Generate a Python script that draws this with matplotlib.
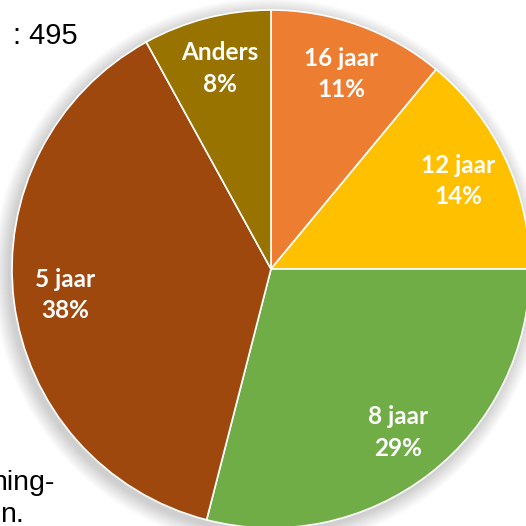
import matplotlib
matplotlib.use("Agg")
import matplotlib.pyplot as plt
from matplotlib.patches import Circle

categories = ["16 jaar", "12 jaar", "8 jaar", "5 jaar", "Anders"]
values = [11, 14, 29, 38, 8]
colors = ["#ED7D31", "#FFC000", "#70AD47", "#9E480E", "#997300"]
top_text = ": 495"
bottom_lines = ["ning-", "n."]

W = 526
fig = plt.figure(figsize=(5.26, 5.26), dpi=100)
ax = fig.add_axes([0, 0, 1, 1])

cx, cy, R = 271, W - 269, 259

# soft shadow
for i in range(16):
    ax.add_patch(Circle((cx - 3, cy - 4), R + 16 - i, color="#000000",
                        alpha=0.013, lw=0, zorder=0))

wedges, texts = ax.pie(values, labels=categories, colors=colors, startangle=90,
                       counterclock=False, center=(cx, cy), radius=R,
                       labeldistance=0.80, frame=True,
                       wedgeprops=dict(edgecolor="white", linewidth=1.2),
                       textprops=dict(color="white", fontsize=17.5,
                                      fontweight="bold", family="Lato"))
for t, v in zip(texts, values):
    t.set_text(f"{t.get_text()}\n{v}%")
    t.set_ha("center")
    t.set_va("center")
    t.set_multialignment("center")
    t.set_linespacing(1.45)
ax.set_xlim(0, W)
ax.set_ylim(0, W)
ax.set_aspect("equal")
ax.axis("off")

ax.text(78, W - 44, top_text, ha="right", va="baseline", fontsize=21,
        family="Liberation Sans", color="black")
ax.text(54, W - 490, bottom_lines[0], ha="right", va="baseline", fontsize=20.5,
        family="Liberation Sans", color="black")
ax.text(24, W - 522, bottom_lines[1], ha="right", va="baseline", fontsize=20.5,
        family="Liberation Sans", color="black")

fig.savefig("out.png", dpi=100, facecolor="white")
